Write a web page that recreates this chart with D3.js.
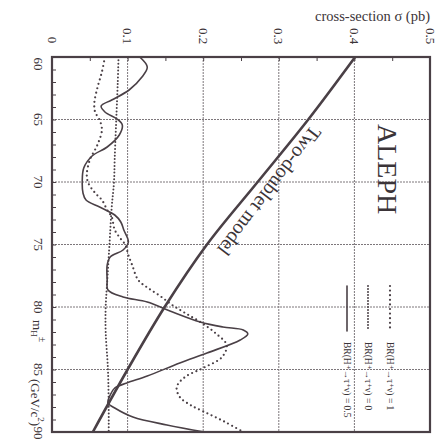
<!DOCTYPE html>
<html><head><meta charset="utf-8">
<script src="https://cdn.jsdelivr.net/npm/d3@7"></script>
<style>
body{margin:0;background:#fff}
svg text{font-family:"Liberation Serif","DejaVu Serif",serif;fill:#3b3438}
</style>
</head><body>
<svg id="c" width="439" height="439" font-family="Liberation Serif, DejaVu Serif, serif"></svg>
<script>
// ---- data ----
const massTicks = [60,65,70,75,80,85,90];
const massTickLabels = ["60","65","70","75","80","85","90"];
const sigmaTicks = [0,0.1,0.2,0.3,0.4,0.5];
const sigmaTickLabels = ["0","0.1","0.2","0.3","0.4","0.5"];

const twoDoubletMass  = [60,65,70,75,80,85,90];
const twoDoubletSigma = [0.401,0.339,0.272,0.205,0.149,0.100,0.054];

// BR = 0.5 (solid)
const brHalfMass  = [60.0,60.8,61.6,62.64,63.44,63.92,64.4,64.96,65.44,66.24,67.2,67.92,68.88,70.0,70.88,71.44,72.0,72.64,73.2,73.84,74.8,75.44,76.0,76.64,77.84,78.64,79.2,79.6,80.32,81.2,81.6,81.84,82.16,82.64,83.68,84.48,85.52,86.08,86.48,87.04,87.68,88.08,88.8,89.44,90.0];
const brHalfSigma = [0.116,0.126,0.119,0.102,0.079,0.065,0.070,0.086,0.093,0.089,0.073,0.053,0.042,0.040,0.041,0.045,0.063,0.083,0.091,0.095,0.101,0.094,0.077,0.073,0.073,0.074,0.094,0.126,0.156,0.196,0.226,0.253,0.259,0.249,0.205,0.169,0.126,0.099,0.083,0.077,0.074,0.083,0.107,0.152,0.202];

// BR = 1 (sparse dots)
const brOneMass  = [60,61.2,62.48,63.68,64.4,65.04,65.84,67.04,68.24,69.44,70.08,70.88,71.44,72.24,72.8,73.84,74.48,75.04,75.84,76.64,77.84,78.48,79.12,79.84,80.48,81.2,82.08,83.04,84.0,84.88,85.6,86.4,87.2,87.84,88.4,89.2,90.0];
const brOneSigma = [0.070,0.066,0.060,0.056,0.057,0.063,0.066,0.060,0.050,0.046,0.048,0.057,0.066,0.073,0.079,0.083,0.090,0.097,0.101,0.106,0.114,0.127,0.143,0.159,0.176,0.196,0.216,0.231,0.225,0.200,0.176,0.165,0.169,0.183,0.202,0.229,0.253];

// BR = 0 (dense dots)
const brZeroMass  = [60,62,65,68,70,72,75,78,80,82,85,88,90];
const brZeroSigma = [0.088,0.087,0.085,0.083,0.082,0.079,0.076,0.073,0.071,0.071,0.074,0.075,0.075];

const legendLabels = ["BR(H\u207A\u2192\u03C4\u207A\u03BD) = 1","BR(H\u207A\u2192\u03C4\u207A\u03BD) = 0","BR(H\u207A\u2192\u03C4\u207A\u03BD) = 0.5"];

// ---- drawing ----
const ink = "#4a4046";
const svg = d3.select("#c");
const L=52,R=430,T=57,B=432;
const sx = d3.scaleLinear().domain([0,0.5]).range([L,R]);
const sy = d3.scaleLinear().domain([60,90]).range([T,B]);

svg.append("defs").append("clipPath").attr("id","clip")
  .append("rect").attr("x",L).attr("y",T).attr("width",R-L).attr("height",B-T);

// grid
const grid = svg.append("g").attr("stroke","#7d777b").attr("stroke-width",1).attr("stroke-dasharray","2,1");
grid.selectAll(".h").data(massTicks.slice(1,-1)).join("line")
  .attr("x1",L).attr("x2",R).attr("y1",d=>sy(d)).attr("y2",d=>sy(d));
grid.selectAll(".v").data(sigmaTicks.slice(1,-1)).join("line")
  .attr("y1",T).attr("y2",B).attr("x1",d=>sx(d)).attr("x2",d=>sx(d));

// minor ticks via axes
const leftAx = d3.axisLeft(sy).tickValues(d3.range(60,90.01,1)).tickSize(-4).tickFormat("");
svg.append("g").attr("transform",`translate(${L},0)`).call(leftAx)
  .call(g=>g.select(".domain").remove()).selectAll("line").attr("stroke",ink);
const topAx = d3.axisTop(sx).tickValues(d3.range(0,0.5001,0.05)).tickSize(-4).tickFormat("");
svg.append("g").attr("transform",`translate(0,${T})`).call(topAx)
  .call(g=>g.select(".domain").remove()).selectAll("line").attr("stroke",ink);

// curves
const line = d3.line().x(d=>sx(d[1])).y(d=>sy(d[0])).curve(d3.curveCatmullRom.alpha(0.5));
const plot = svg.append("g").attr("clip-path","url(#clip)").attr("fill","none");
plot.append("path").datum(d3.zip(brZeroMass,brZeroSigma)).attr("d",line)
  .attr("stroke",ink).attr("stroke-width",2).attr("stroke-linecap","round").attr("stroke-dasharray","0,3.4");
plot.append("path").datum(d3.zip(brOneMass,brOneSigma)).attr("d",line)
  .attr("stroke",ink).attr("stroke-width",2.2).attr("stroke-linecap","round").attr("stroke-dasharray","0,4.6");
plot.append("path").datum(d3.zip(brHalfMass,brHalfSigma)).attr("d",line)
  .attr("stroke",ink).attr("stroke-width",1.6);
plot.append("path").datum(d3.zip(twoDoubletMass,twoDoubletSigma)).attr("d",line)
  .attr("stroke",ink).attr("stroke-width",2.6);

// frame
svg.append("rect").attr("x",L).attr("y",T).attr("width",R-L).attr("height",B-T)
  .attr("fill","none").attr("stroke",ink).attr("stroke-width",2.2);

// tick labels (rotated 90)
svg.selectAll(".sl").data(sigmaTicks).join("text")
  .attr("transform",(d,i)=>`translate(${sx(d)},${i===0?40:36}) rotate(90)`)
  .attr("text-anchor","middle").attr("dominant-baseline","central")
  .attr("font-size",13).text((d,i)=>sigmaTickLabels[i]);
svg.selectAll(".ml").data(massTicks).join("text")
  .attr("transform",(d,i)=>`translate(38,${i===0?sy(d)+7:(i===massTicks.length-1?sy(d)+1:sy(d))}) rotate(90)`)
  .attr("text-anchor","middle").attr("dominant-baseline","central")
  .attr("font-size",13).text((d,i)=>massTickLabels[i]);

// axis titles
svg.append("text").attr("x",430).attr("y",21).attr("text-anchor","end")
  .attr("font-size",14.5).text("cross-section \u03C3 (pb)");
const mt = svg.append("text").attr("transform","translate(38,320) rotate(90)")
  .attr("dominant-baseline","central").attr("font-size",13);
mt.append("tspan").text("m");
mt.append("tspan").attr("font-size",9).attr("dy",4).text("H");
mt.append("tspan").attr("font-size",10).attr("dy",-9).text("\u00B1");
const gt = svg.append("text").attr("transform","translate(36,379) rotate(90)")
  .attr("dominant-baseline","central").attr("font-size",13);
gt.append("tspan").text("(GeV/c");
gt.append("tspan").attr("font-size",9).attr("dy",-5).text("2");
gt.append("tspan").attr("dy",5).text(")");

// ALEPH
svg.append("text").attr("transform","translate(378,124) rotate(90)")
  .attr("font-size",28).text("ALEPH");

// Two-doublet model label along line
{
  const interp = d3.scaleLinear().domain(twoDoubletMass).range(twoDoubletSigma);
  const mA=62, mB=80, mC=70.0;
  const ang = Math.atan2(sy(mB)-sy(mA), sx(interp(mB))-sx(interp(mA)));
  const ux = Math.sin(ang), uy = -Math.cos(ang);
  const px = sx(interp(mC)), py = sy(mC);
  svg.append("text")
    .attr("transform",`translate(${px+ux*8},${py+uy*8}) rotate(${ang*180/Math.PI})`)
    .attr("text-anchor","middle").attr("font-size",20).text("Two-doublet model");
}

// legend
const legX = [390,368,347];
const legDash = ["0,4.6","0,3","none"];
const legW = [2.2,2,1.6];
legendLabels.forEach((lab,i)=>{
  svg.append("line").attr("x1",legX[i]).attr("x2",legX[i]).attr("y1",286).attr("y2",331)
    .attr("stroke",ink).attr("stroke-width",legW[i]).attr("stroke-linecap","round")
    .attr("stroke-dasharray",legDash[i]==="none"?null:legDash[i]);
  svg.append("text").attr("transform",`translate(${legX[i]},342) rotate(90)`)
    .attr("dominant-baseline","central").attr("font-size",9.5).text(lab);
});
</script>
</body></html>
